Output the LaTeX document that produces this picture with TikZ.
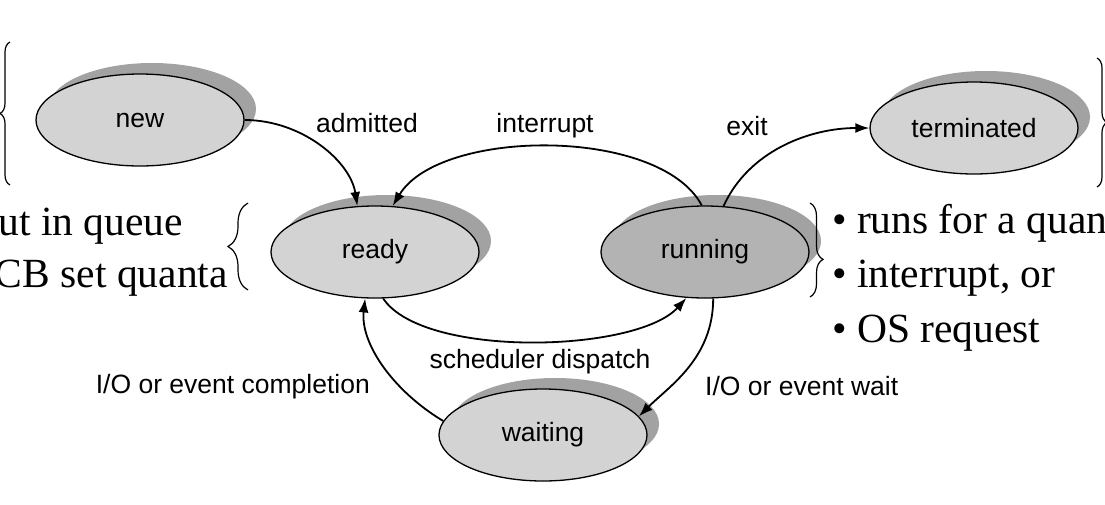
\documentclass[tikz,border=0pt]{standalone}
\usepackage{fontspec}
\setmainfont{Liberation Serif}
\newfontfamily\labelfont{Liberation Sans}
\usetikzlibrary{shapes.geometric,shadows,arrows.meta,decorations.pathreplacing}
\definecolor{statefill}{HTML}{D3D3D3}
\definecolor{runfill}{HTML}{B3B3B3}
\definecolor{shadowgray}{HTML}{A2A2A2}

\begin{document}
\begin{tikzpicture}[x=1pt,y=-1pt,
  state/.style={ellipse, draw=black, line width=1.3pt, fill=statefill,
    minimum width=208pt, minimum height=92pt, inner sep=0pt,
    font=\labelfont\fontsize{26.5}{30}\selectfont,
    general shadow={fill=shadowgray, shadow xshift=12pt, shadow yshift=11pt}},
  flow/.style={-{Latex[length=14pt,width=10pt]}, line width=1.8pt},
  edgelabel/.style={anchor=base, inner sep=0pt, font=\labelfont\fontsize{26.5}{30}\selectfont},
  note/.style={inner sep=0pt, font=\fontsize{41.5}{48}\selectfont},
  bracket/.style={decorate, line width=1.2pt}]

\useasboundingbox (0,0) rectangle (1105,504);
\fill[white] (0,0) rectangle (1105,504);
\clip (0,0) rectangle (1105,504);

% process states
\node[state] (new) at (140,120) {new};
\node[state] (terminated) at (974,128) {terminated};
\node[state] (ready) at (375,252) {ready};
\node[state, fill=runfill] (running) at (705,252) {running};
\node[state] (waiting) at (543,435) {waiting};

% transitions
\draw[flow] (new.east) .. controls +(57,0) and +(-7,-45) .. (ready.111);
\draw[flow] (running.94) .. controls +(-42,-79) and +(47,-78) .. (ready.69);
\draw[flow] (running.68) .. controls +(25,-55) and +(-60,0) .. (terminated.west);
\draw[flow] (ready.-80) .. controls +(40,60) and +(-50,55) .. (running.-112);
\draw[flow] (running.-80) .. controls +(0,60) and +(30,-30) .. (waiting.11);
\draw[flow] (waiting.172) .. controls +(-50,-30) and +(-5,45) .. (ready.-102);

% transition labels
\node[edgelabel] (lAdm) at (367,132) {admitted};
\node[edgelabel] (lInt) at (545,132) {interrupt};
\node[edgelabel] (lExit) at (747,135) {exit};
\node[edgelabel] (lDisp) at (540,368) {scheduler dispatch};
\node[edgelabel, anchor=base east] (lComp) at (370,393) {I/O or event completion};
\node[edgelabel, anchor=base west] (lWait) at (705,395) {I/O or event wait};

% annotation braces
\draw[bracket, decoration={brace, amplitude=10pt, aspect=0.5}] (10,185) -- (10,42);
\draw[bracket, decoration={brace, amplitude=10pt, aspect=0.5}] (1097,58) -- (1097,187);
\draw[bracket, decoration={brace, amplitude=20pt, aspect=0.5}] (248,290) -- (248,203);
\draw[bracket, decoration={brace, amplitude=13pt, aspect=0.6}] (810,203) -- (810,297);

% annotation notes
\node[note, anchor=base east] (nQueue) at (183,235) {ut in queue};
\node[note, anchor=base east] (nPcb) at (228,287) {CB set quanta};
\node[note, anchor=base west] (nRuns) at (832,233) {• runs for a quan};
\node[note, anchor=base west] (nIntr) at (832,287) {• interrupt, or};
\node[note, anchor=base west] (nOs) at (832,342) {• OS request};
\end{tikzpicture}
\end{document}
